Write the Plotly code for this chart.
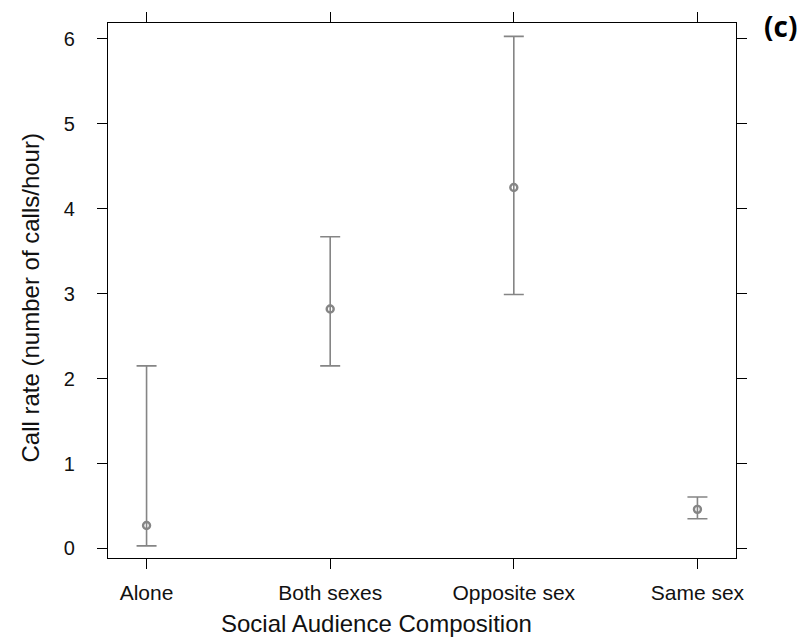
import plotly.graph_objects as go

categories = ["Alone", "Both sexes", "Opposite sex", "Same sex"]
means = [0.27, 2.82, 4.25, 0.46]
upper = [2.15, 3.67, 6.03, 0.605]
lower = [0.03, 2.15, 2.99, 0.35]

x_idx = list(range(len(categories)))
err_plus = [u - m for u, m in zip(upper, means)]
err_minus = [m - l for m, l in zip(means, lower)]

grey = "#858585"
fig = go.Figure()
fig.add_trace(go.Scatter(
    x=x_idx, y=means, mode="markers",
    marker=dict(symbol="circle-open", size=7, color=grey, line=dict(width=2.4, color=grey)),
    error_y=dict(type="data", symmetric=False, array=err_plus, arrayminus=err_minus,
                 color=grey, thickness=1.6, width=10),
    showlegend=False,
))

font_family = "Liberation Sans, Arial, sans-serif"
fig.update_layout(
    width=802, height=633, autosize=False,
    margin=dict(l=100, r=74, t=15, b=83),
    plot_bgcolor="white", paper_bgcolor="white",
    font=dict(family=font_family, color="#111111", size=20),
    xaxis=dict(
        range=[-0.21, 3.21], tickmode="array", tickvals=x_idx, ticktext=categories,
        showgrid=False, zeroline=False, showline=True, linecolor="black", linewidth=1.3,
        mirror="ticks", ticks="outside", ticklen=10, tickwidth=1.3, tickcolor="black",
        ticklabelstandoff=6, automargin=False,
        tickfont=dict(size=21, family=font_family),
    ),
    yaxis=dict(
        range=[-0.113, 6.188], tickvals=[0, 1, 2, 3, 4, 5, 6],
        showgrid=False, zeroline=False, showline=True, linecolor="black", linewidth=1.3,
        mirror="ticks", ticks="outside", ticklen=10, tickwidth=1.3, tickcolor="black",
        ticklabelstandoff=18, automargin=False,
        tickfont=dict(size=20, family=font_family),
    ),
    annotations=[
        dict(text="Social Audience Composition", x=0.427, y=0, xref="paper", yref="paper",
             xanchor="center", yanchor="middle", yshift=-65, showarrow=False,
             font=dict(size=24, family=font_family, color="#111111")),
        dict(text="Call rate (number of calls/hour)", x=0, y=0.485, xref="paper", yref="paper",
             xanchor="center", yanchor="middle", xshift=-77, textangle=-90, showarrow=False,
             font=dict(size=24, family=font_family, color="#111111")),
        dict(text="<b>(c)</b>", x=1.0, y=1.0, xref="paper", yref="paper",
             xanchor="left", yanchor="top", xshift=26, yshift=18, showarrow=False,
             font=dict(size=28, family="Open Sans, sans-serif", color="black")),
    ],
)

fig.write_html("out.html")
